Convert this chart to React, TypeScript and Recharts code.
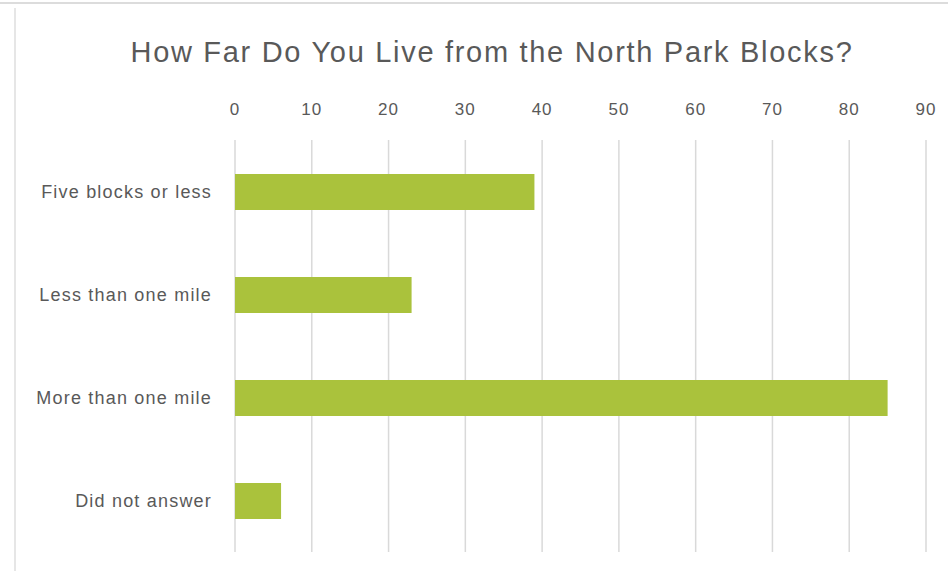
import { Bar, BarChart, CartesianGrid, XAxis, YAxis } from "recharts";

const categories = ["Five blocks or less", "Less than one mile", "More than one mile", "Did not answer"];
const counts = [39, 23, 85, 6];
const xTicks = [0, 10, 20, 30, 40, 50, 60, 70, 80, 90];

const data = categories.map((name, i) => ({ name, value: counts[i] }));

const FONT = "'Liberation Sans', Arial, sans-serif";
const TEXT = "#595959";

export default function App() {
  return (
    <div style={{ position: "absolute", left: 0, top: 0, width: 948, height: 571, background: "#fff", overflow: "hidden" }}>
      <div style={{ position: "absolute", left: 0, top: 2, width: 948, height: 2, background: "#dcdcdc" }} />
      <div style={{ position: "absolute", left: 14, top: 8, width: 2, height: 563, background: "#e6e6e6" }} />
      <div
        style={{
          position: "absolute",
          left: 0,
          top: 36,
          width: 984,
          textAlign: "center",
          fontFamily: FONT,
          fontSize: 29,
          letterSpacing: 1.7,
          color: TEXT,
        }}
      >
        How Far Do You Live from the North Park Blocks?
      </div>
      <div style={{ position: "absolute", left: 0, top: 0 }}>
        <BarChart
          width={948}
          height={571}
          data={data}
          layout="vertical"
          margin={{ top: 110, right: 22, bottom: 19, left: 20 }}
          barSize={36}
        >
          <CartesianGrid horizontal={false} stroke="#d9d9d9" strokeWidth={1.5} />
          <XAxis
            type="number"
            orientation="top"
            domain={[0, 90]}
            ticks={xTicks}
            axisLine={false}
            tickLine={false}
            tickMargin={19}
            height={30}
            tick={{ fill: TEXT, fontSize: 17, fontFamily: FONT, letterSpacing: 1 }}
          />
          <YAxis
            type="category"
            dataKey="name"
            width={215}
            axisLine={false}
            tickLine={false}
            tickMargin={17}
            tick={{ fill: TEXT, fontSize: 18, fontFamily: FONT, letterSpacing: 1.2 }}
          />
          <Bar dataKey="value" fill="#aac23c" isAnimationActive={false} />
        </BarChart>
      </div>
    </div>
  );
}
